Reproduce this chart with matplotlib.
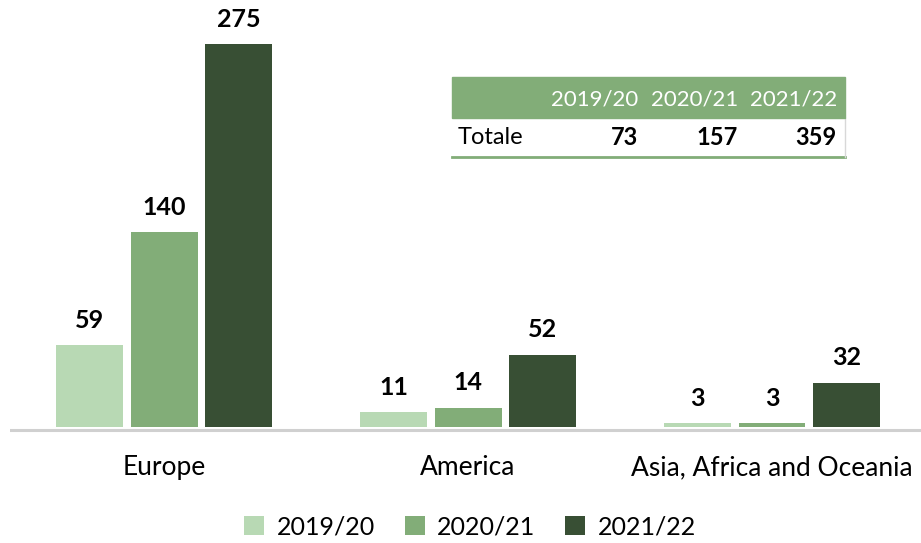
import numpy as np
import matplotlib.pyplot as plt
from matplotlib.patches import Rectangle

regions = ["Europe", "America", "Asia, Africa and Oceania"]
seasons = ["2019/20", "2020/21", "2021/22"]
v_1920 = [59, 11, 3]
v_2021 = [140, 14, 3]
v_2122 = [275, 52, 32]
totals = [73, 157, 359]

colors = ["#B8D9B4", "#82AD78", "#384F34"]

plt.rcParams['font.family'] = ['Lato', 'DejaVu Sans']

W, H = 921, 543
fig = plt.figure(figsize=(W / 100, H / 100), dpi=100)
ax = fig.add_axes([10 / W, (H - 433) / H, 911 / W, 433 / H])

x = np.arange(len(regions))
step = 0.245
width = 0.22
for i, (vals, col) in enumerate(zip([v_1920, v_2021, v_2122], colors)):
    bars = ax.bar(x + (i - 1) * step, vals, width=width, color=col, label=seasons[i], zorder=2)
    for b, v in zip(bars, vals):
        ax.annotate(str(v), (b.get_x() + b.get_width() / 2, v), xytext=(0, 18),
                    textcoords="offset points", ha="center", va="center",
                    fontsize=18, fontweight="bold", color="black")

ax.set_xlim(-0.507, 2.49)
ax.set_ylim(-4, 306.6)
ax.axhline(-2, color="#D0D0D0", lw=2.2, zorder=3)
for s in ax.spines.values():
    s.set_visible(False)
ax.set_yticks([])
ax.set_xticks(x)
ax.set_xticklabels(regions, fontsize=19)
ax.tick_params(axis="x", length=0, pad=16)

# summary table
tx0, tx1 = 452 / W, 845 / W
hy0, hy1 = 1 - 118 / H, 1 - 77 / H
ry0 = 1 - 157 / H
fig.patches.append(Rectangle((tx0, hy0), tx1 - tx0, hy1 - hy0, transform=fig.transFigure,
                             color="#82AD78", zorder=5))
fig.add_artist(plt.Line2D([tx0, tx1], [ry0, ry0], transform=fig.transFigure, color="#82AD78", lw=2))
fig.add_artist(plt.Line2D([tx1, tx1], [ry0, hy0], transform=fig.transFigure, color="#D8D8D8", lw=1))
col_right = [638, 738, 837]
for cr, s, t in zip(col_right, seasons, totals):
    fig.text(cr / W, (hy0 + hy1) / 2 - 0.004, s, ha="right", va="center", color="white",
             fontsize=16, zorder=6)
    fig.text(cr / W, (hy0 + ry0) / 2, str(t), ha="right", va="center", color="black",
             fontsize=17, fontweight="bold")
fig.text(458 / W, (hy0 + ry0) / 2, "Totale", ha="left", va="center", fontsize=17)

fig.legend(loc="center", bbox_to_anchor=(470 / W, 1 - 527 / H), ncol=3, frameon=False,
           fontsize=18, handlelength=0.8, handleheight=0.8, handletextpad=0.5, columnspacing=1.2)

fig.savefig("out.png", dpi=100)
